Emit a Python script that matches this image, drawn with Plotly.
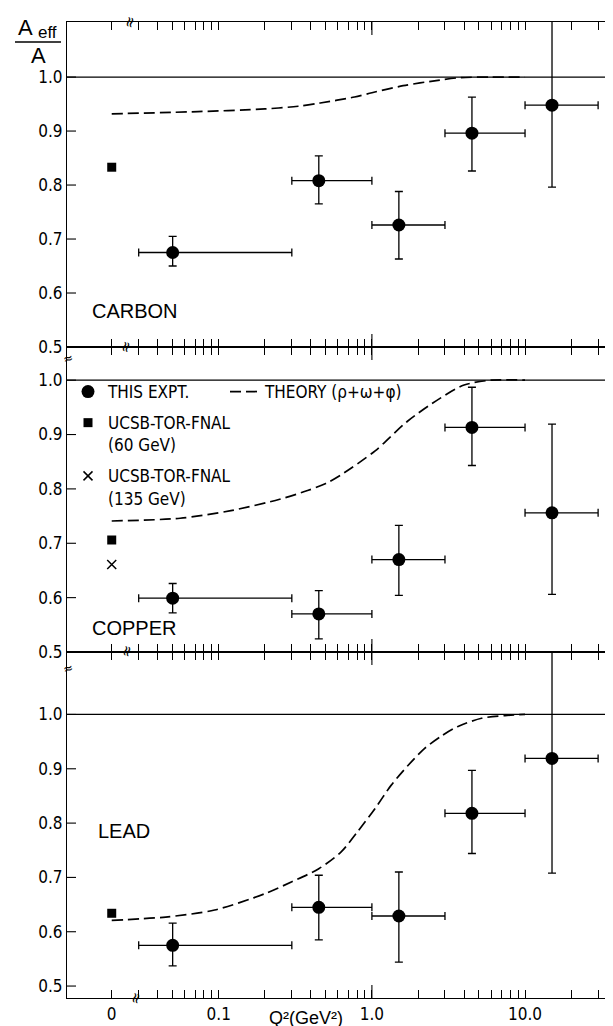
import math
import plotly.graph_objects as go
from plotly.subplots import make_subplots

# ---------------- data ----------------
# position on the (broken) log axis used to display Q^2 = 0
Q2_ZERO_POS = 0.02

q2_points = [0.05, 0.45, 1.5, 4.5, 15.0]
q2_bin_lo = [0.03, 0.3, 1.0, 3.0, 10.0]
q2_bin_hi = [0.3, 1.0, 3.0, 10.0, 30.0]

carbon_vals = [0.675, 0.808, 0.726, 0.896, 0.948]
carbon_err_up = [0.030, 0.046, 0.062, 0.067, 0.160]
carbon_err_dn = [0.025, 0.043, 0.063, 0.070, 0.152]

copper_vals = [0.599, 0.570, 0.670, 0.913, 0.756]
copper_err_up = [0.027, 0.043, 0.063, 0.074, 0.163]
copper_err_dn = [0.027, 0.046, 0.066, 0.070, 0.150]

lead_vals = [0.575, 0.645, 0.629, 0.818, 0.919]
lead_err_up = [0.041, 0.059, 0.081, 0.079, 0.215]
lead_err_dn = [0.038, 0.060, 0.085, 0.074, 0.211]

ucsb60_vals = {"CARBON": 0.833, "COPPER": 0.706, "LEAD": 0.634}
ucsb135_vals = {"COPPER": 0.661}

carbon_theory_q2 = [Q2_ZERO_POS, 0.073, 0.2, 0.33, 0.46, 0.77, 1.0, 1.6, 2.7, 3.8, 6.0, 10.0]
carbon_theory = [0.932, 0.936, 0.941, 0.946, 0.952, 0.963, 0.971, 0.984, 0.994, 0.999, 1.0, 1.0]

copper_theory_q2 = [Q2_ZERO_POS, 0.056, 0.12, 0.25, 0.38, 0.5, 0.63, 1.05, 1.7, 2.8, 4.0, 6.0, 10.0]
copper_theory = [0.741, 0.746, 0.760, 0.781, 0.797, 0.810, 0.826, 0.870, 0.924, 0.967, 0.991, 1.0, 1.0]

lead_theory_q2 = [Q2_ZERO_POS, 0.045, 0.094, 0.2, 0.3, 0.45, 0.63, 0.81, 1.05, 1.33,
                  1.72, 2.22, 2.83, 3.65, 5.2, 7.4, 10.0]
lead_theory = [0.621, 0.627, 0.640, 0.670, 0.692, 0.716, 0.747, 0.785, 0.827, 0.869,
               0.906, 0.938, 0.960, 0.978, 0.993, 0.998, 1.0]

x_tick_vals = [Q2_ZERO_POS, 0.1, 1.0, 10.0]
x_tick_text = ["0", "0.1", "1.0", "10.0"]
y_tick_vals = [0.5, 0.6, 0.7, 0.8, 0.9, 1.0]
y_tick_text = ["0.5", "0.6", "0.7", "0.8", "0.9", "1.0"]

panels = ["CARBON", "COPPER", "LEAD"]
panel_vals = [carbon_vals, copper_vals, lead_vals]
panel_up = [carbon_err_up, copper_err_up, lead_err_up]
panel_dn = [carbon_err_dn, copper_err_dn, lead_err_dn]
panel_theory_q2 = [carbon_theory_q2, copper_theory_q2, lead_theory_q2]
panel_theory = [carbon_theory, copper_theory, lead_theory]
y_ranges = [[0.5, 1.102], [0.5, 1.061], [0.478, 1.115]]

# ---------------- figure ----------------
W, H = 613, 1026
ML, MR, MT, MB = 59, 3, 14, 36
PW, PH = W - ML - MR, H - MT - MB

COND = "DejaVu Sans Condensed, DejaVu Sans, sans-serif"
PLAIN = "Liberation Sans, Arial, sans-serif"

# tick labels are placed a hair off the exact values so the minor
# tick marks at the same values are kept by the renderer
EPS = 1.0000001
x_label_pos = [v * EPS for v in x_tick_vals]

fig = make_subplots(rows=3, cols=1, shared_xaxes=True, vertical_spacing=0,
                    row_heights=[325, 305, 346])

x_plus = [h - p for h, p in zip(q2_bin_hi, q2_points)]
x_minus = [p - l for p, l in zip(q2_points, q2_bin_lo)]

for i, name in enumerate(panels):
    row = i + 1
    show = (name == "COPPER")
    fig.add_trace(go.Scatter(
        x=panel_theory_q2[i], y=panel_theory[i], mode="lines",
        line=dict(color="black", width=1.7, dash="11px,5px", shape="spline", smoothing=0.8),
        name="THEORY (ρ+ω+φ)", showlegend=show, legend="legend2", hoverinfo="skip"),
        row=row, col=1)
    fig.add_trace(go.Scatter(
        x=q2_points, y=panel_vals[i], mode="markers",
        marker=dict(symbol="circle", size=13, color="black"),
        error_y=dict(type="data", symmetric=False, array=panel_up[i], arrayminus=panel_dn[i],
                     color="black", thickness=1.3, width=4),
        error_x=dict(type="data", symmetric=False, array=x_plus, arrayminus=x_minus,
                     color="black", thickness=1.3, width=4),
        name="THIS EXPT.", showlegend=show, legendgroup="a", legend="legend"),
        row=row, col=1)
    fig.add_trace(go.Scatter(
        x=[Q2_ZERO_POS], y=[ucsb60_vals[name]], mode="markers",
        marker=dict(symbol="square", size=9, color="black"),
        name="UCSB-TOR-FNAL<br>(60 GeV)", showlegend=show, legendgroup="b", legend="legend"),
        row=row, col=1)
    if name in ucsb135_vals:
        fig.add_trace(go.Scatter(
            x=[Q2_ZERO_POS], y=[ucsb135_vals[name]], mode="markers",
            marker=dict(symbol="x-thin", size=9, color="black",
                        line=dict(color="black", width=1.5)),
            name="UCSB-TOR-FNAL<br>(135 GeV)", showlegend=True, legendgroup="c", legend="legend"),
            row=row, col=1)
    # reference line at A_eff/A = 1
    yref = "y" if row == 1 else f"y{row}"
    fig.add_shape(type="line", xref="paper", x0=0, x1=1, yref=yref, y0=1.0, y1=1.0,
                  line=dict(color="black", width=1.2), layer="below")

for row in range(1, 4):
    fig.update_xaxes(type="log", range=[-1.991, 1.607],
                     tickmode="array", tickvals=x_label_pos, ticktext=x_tick_text,
                     ticks="",
                     minor=dict(dtick="D1", ticks="inside",
                                ticklen=8, tickwidth=1, tickcolor="black", showgrid=False),
                     tickfont=dict(family=COND, size=17, color="black"),
                     showline=True, linecolor="black", linewidth=1.2, mirror="ticks",
                     showgrid=False, zeroline=False, row=row, col=1)
    fig.update_yaxes(range=y_ranges[row - 1], tickmode="array",
                     tickvals=y_tick_vals, ticktext=y_tick_text, ticks="",
                     tickfont=dict(family=COND, size=17, color="black"),
                     showline=True, linecolor="black", linewidth=1.2, mirror=True,
                     showgrid=False, zeroline=False, row=row, col=1)
fig.update_xaxes(showticklabels=True, row=3, col=1)

# inward tick marks on the frame (drawn as axis-anchored line shapes)
domains = [fig.layout.yaxis.domain, fig.layout.yaxis2.domain, fig.layout.yaxis3.domain]
tick_line = dict(color="black", width=1.1)
for r in range(3):
    yref = "y" if r == 0 else f"y{r + 1}"
    xref = "x" if r == 0 else f"x{r + 1}"
    lo, hi = y_ranges[r]
    for v in y_tick_vals:
        if lo <= v <= hi:
            fig.add_shape(type="line", xref="paper", xsizemode="pixel", xanchor=0, x0=0, x1=9,
                          yref=yref, y0=v, y1=v, line=tick_line)
            fig.add_shape(type="line", xref="paper", xsizemode="pixel", xanchor=1, x0=-9, x1=0,
                          yref=yref, y0=v, y1=v, line=tick_line)
    d0, d1 = domains[r]
    for v in x_tick_vals:
        lv = math.log10(v)
        fig.add_shape(type="line", xref=xref, x0=lv, x1=lv, yref="paper", ysizemode="pixel",
                      yanchor=d0, y0=0, y1=13, line=tick_line)
        fig.add_shape(type="line", xref=xref, x0=lv, x1=lv, yref="paper", ysizemode="pixel",
                      yanchor=d1, y0=-13, y1=0, line=tick_line)


def px(xp):
    return (xp - ML) / PW


def py(yp):
    return (MT + PH - yp) / PH


annotations = []
# panel labels
for label, (xx, yy) in zip(panels, [(82, 303), (82, 620), (88, 823)]):
    annotations.append(dict(text=label, x=px(xx), y=py(yy), xref="paper", yref="paper",
                            xanchor="left", yanchor="middle", showarrow=False,
                            font=dict(family=PLAIN, size=20, color="black")))
# y-axis label as fraction
annotations.append(dict(text="A", x=px(17), y=py(19), xref="paper", yref="paper",
                        xanchor="center", yanchor="middle", showarrow=False,
                        font=dict(family=PLAIN, size=22, color="black")))
annotations.append(dict(text="eff", x=px(39), y=py(25), xref="paper", yref="paper",
                        xanchor="center", yanchor="middle", showarrow=False,
                        font=dict(family=PLAIN, size=17, color="black")))
annotations.append(dict(text="A", x=px(30), y=py(47), xref="paper", yref="paper",
                        xanchor="center", yanchor="middle", showarrow=False,
                        font=dict(family=PLAIN, size=22, color="black")))
# x-axis title
annotations.append(dict(text="Q²(GeV²)", x=px(298), y=py(1010),
                        xref="paper", yref="paper", xanchor="center", yanchor="middle",
                        showarrow=False, font=dict(family=PLAIN, size=18, color="black")))
# axis break marks
for (xx, yy) in [(121, 14), (118, 339), (118, 643), (127, 990)]:
    annotations.append(dict(text="≈", x=px(xx), y=py(yy), xref="paper", yref="paper",
                            xanchor="center", yanchor="middle", showarrow=False, textangle=-75,
                            font=dict(family=COND, size=16, color="black")))
for (xx, yy) in [(60, 350), (60, 660), (602, 350), (602, 660)]:
    annotations.append(dict(text="≈", x=px(xx), y=py(yy), xref="paper", yref="paper",
                            xanchor="center", yanchor="middle", showarrow=False, textangle=-15,
                            font=dict(family=COND, size=13, color="black")))

fig.add_shape(type="line", xref="paper", yref="paper", x0=px(7), x1=px(53),
              y0=py(34), y1=py(34), line=dict(color="black", width=1.5))

fig.update_layout(
    template="none",
    width=W, height=H,
    margin=dict(l=ML, r=MR, t=MT, b=MB),
    paper_bgcolor="white", plot_bgcolor="white",
    annotations=annotations,
    legend=dict(x=px(60), y=py(366), xanchor="left", yanchor="top",
                font=dict(family=COND, size=17, color="black"),
                bgcolor="rgba(0,0,0,0)", valign="top", tracegroupgap=6,
                itemclick=False, itemdoubleclick=False),
    legend2=dict(x=px(217), y=py(366), xanchor="left", yanchor="top",
                 font=dict(family=COND, size=17, color="black"),
                 bgcolor="rgba(0,0,0,0)"),
    showlegend=True,
)

fig.write_html("out.html")
